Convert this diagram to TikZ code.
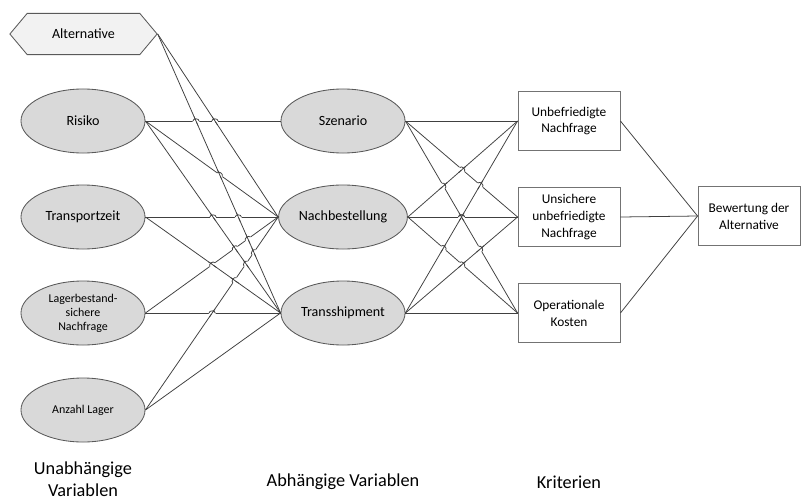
\documentclass[tikz,border=0pt]{standalone}
\usepackage{fontspec}
\setmainfont{Carlito}
\definecolor{ellfill}{gray}{0.85}
\definecolor{hexfill}{gray}{0.95}
\definecolor{randgrau}{gray}{0.35}
\definecolor{boxrand}{gray}{0.45}
\definecolor{linie}{gray}{0.25}
\usetikzlibrary{shapes.geometric,shapes.symbols,calc}
\tikzset{
  varell/.style={ellipse,draw=randgrau,fill=ellfill,line width=0.6pt,minimum width=3.1cm,minimum height=1.6cm,inner sep=1pt,align=center,font=\fontsize{10}{11}\selectfont},
  klein/.style={font=\fontsize{8.5}{10}\selectfont},
  kritbox/.style={rectangle,draw=boxrand,fill=white,line width=0.6pt,minimum width=2.55cm,minimum height=1.48cm,align=center,font=\fontsize{9.5}{12}\selectfont},
  entsch/.style={signal,signal to=west and east,signal pointer angle=100,draw=randgrau,fill=hexfill,line width=0.6pt,minimum width=3.68cm,minimum height=1.03cm,inner sep=1pt,font=\fontsize{10}{11}\selectfont},
  verb/.style={linie,line width=0.55pt},
  luecke/.style={white,line width=1.5pt},
  ebene/.style={font=\fontsize{13}{16}\selectfont,align=center},
}
% Kreuzungspunkt zweier Verbindungen (jeweils .east -- .west)
\newcommand\kreuzung[4]{%
  \coordinate (kp) at (intersection cs: first line={(#1.east)--(#2.west)},
                                        second line={(#3.east)--(#4.west)});}
\begin{document}
\begin{tikzpicture}[x=0.025cm,y=-0.025cm]
  \useasboundingbox (0,0) rectangle (806,500);
  % unabhaengige Variablen
  \node[entsch] (alt) at (83.5,34) {Alternative};
  \node[varell] (risiko) at (83,121) {Risiko};
  \node[varell] (tzeit) at (83,217) {Transportzeit};
  \node[varell,klein] (lager) at (83,313) {Lagerbestand-\\sichere\\Nachfrage};
  \node[varell,klein] (anzahl) at (83,410) {Anzahl Lager};
  % abhaengige Variablen
  \node[varell] (szen) at (343,121) {Szenario};
  \node[varell] (nachb) at (343,217) {Nachbestellung};
  \node[varell] (trans) at (343,313) {Transshipment};
  % Kriterien
  \node[kritbox] (unbef) at (569,121) {Unbefriedigte\\Nachfrage};
  \node[kritbox] (unsich) at (569,217) {Unsichere\\unbefriedigte\\Nachfrage};
  \node[kritbox] (kosten) at (569,313) {Operationale\\Kosten};
  \node[kritbox] (bew) at (749,216) {Bewertung der\\Alternative};
  % Verbindungen links
  \draw[verb] (risiko.east) -- (szen.west);
  \foreach \von in {alt,risiko,tzeit,lager,anzahl}{
    \draw[verb] (\von.east) -- (nachb.west);
    \draw[verb] (\von.east) -- (trans.west);
  }
  % Verbindungen zu den Kriterien
  \foreach \von in {szen,nachb,trans}{
    \foreach \nach in {unbef,unsich,kosten}
      \draw[verb] (\von.east) -- (\nach.west);
  }
  \foreach \von in {unbef,unsich,kosten}
    \draw[verb] (\von.east) -- (bew.west);
  % Spruenge: erste Linie springt ueber die zweite
  \def\spruenge{risiko/szen/alt/nachb, risiko/szen/alt/trans,
    risiko/nachb/alt/trans, tzeit/nachb/alt/trans, tzeit/nachb/risiko/trans,
    lager/nachb/tzeit/trans, lager/nachb/risiko/trans, lager/nachb/alt/trans,
    lager/trans/anzahl/nachb, anzahl/nachb/tzeit/trans,
    anzahl/nachb/risiko/trans, anzahl/nachb/alt/trans,
    szen/unsich/nachb/unbef, szen/unsich/trans/unbef,
    szen/kosten/nachb/unbef, szen/kosten/trans/unsich,
    nachb/unsich/szen/kosten, nachb/unsich/trans/unbef,
    nachb/kosten/trans/unbef, nachb/kosten/trans/unsich}
  \foreach \a/\b/\c/\d in \spruenge{
    \kreuzung{\a}{\b}{\c}{\d}
    \draw[luecke] ($(kp)!2.4pt!(\a.east)$) -- ($(kp)!2.4pt!(\b.west)$);
  }
  \foreach \a/\b/\c/\d in \spruenge{
    \kreuzung{\a}{\b}{\c}{\d}
    \draw[verb] ($(kp)!3.5pt!(\c.east)$) -- ($(kp)!3.5pt!(\d.west)$);
    \draw[verb] ($(kp)!2.2pt!(\a.east)$) to[bend left=90,looseness=1.2] ($(kp)!2.2pt!(\b.west)$);
  }
  % Ebenen
  \node[ebene] (lab1) at (83,479) {Unabhängige\\Variablen};
  \node[ebene] (lab2) at (343,482) {Abhängige Variablen};
  \node[ebene] (lab3) at (569,482) {Kriterien};
\end{tikzpicture}
\end{document}
